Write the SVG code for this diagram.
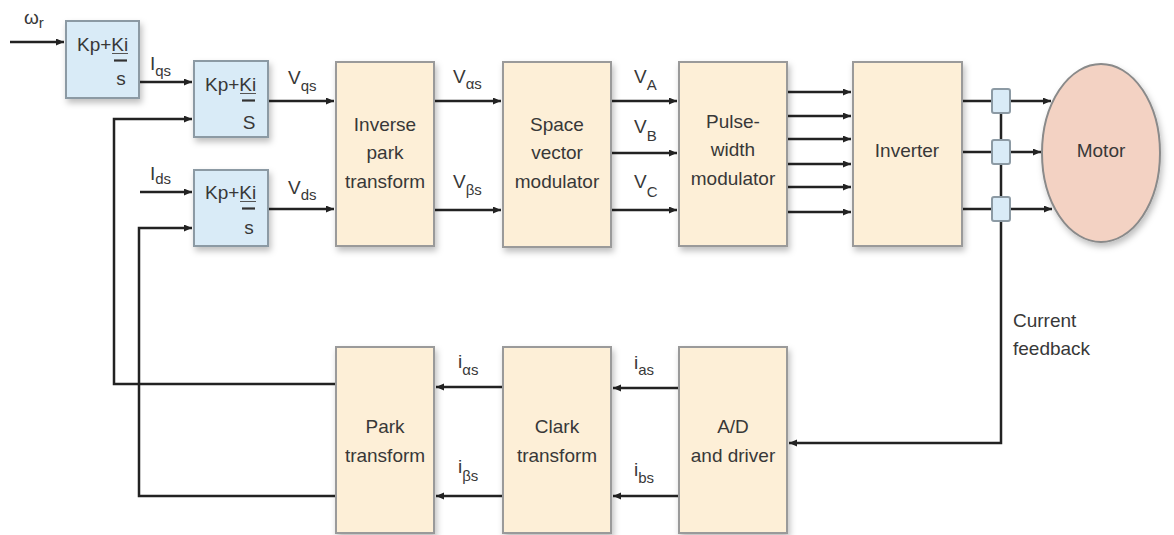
<svg xmlns="http://www.w3.org/2000/svg" width="1174" height="535" viewBox="0 0 1174 535">
<style>
text{font-family:"Liberation Sans",Arial,sans-serif;font-size:19px;fill:#383838}
.sub{font-size:15px}
.pi{fill:#d9ebf7;stroke:#8c9aa4;stroke-width:2}
.bx{fill:#fdefd7;stroke:#9a9a9a;stroke-width:2}
.ln{fill:none;stroke:#222;stroke-width:2.5}
.bar{stroke:#333;stroke-width:2.2}
.ul{stroke:#555;stroke-width:1}
.mid{text-anchor:middle}
</style>
<defs>
<marker id="ah" markerUnits="userSpaceOnUse" markerWidth="10" markerHeight="9" refX="8" refY="3.5" orient="auto">
<path d="M0,0 L8,3.5 L0,7 z" fill="#222"/>
</marker>
<filter id="sh" x="-20%" y="-20%" width="150%" height="150%">
<feDropShadow dx="2" dy="4" stdDeviation="3" flood-color="#000" flood-opacity="0.25"/>
</filter>
</defs>

<g id="connectors">
<path class="ln" d="M10,42 H64" marker-end="url(#ah)"/>
<path class="ln" d="M139,82 H192" marker-end="url(#ah)"/>
<path class="ln" d="M336,384 H114 V119 H192" marker-end="url(#ah)"/>
<path class="ln" d="M140,192 H192" marker-end="url(#ah)"/>
<path class="ln" d="M336,496 H139 V228 H192" marker-end="url(#ah)"/>
<path class="ln" d="M268,101 H334" marker-end="url(#ah)"/>
<path class="ln" d="M268,209 H334" marker-end="url(#ah)"/>
<path class="ln" d="M434,101 H501" marker-end="url(#ah)"/>
<path class="ln" d="M434,210 H501" marker-end="url(#ah)"/>
<path class="ln" d="M611,101 H677" marker-end="url(#ah)"/>
<path class="ln" d="M611,153 H677" marker-end="url(#ah)"/>
<path class="ln" d="M611,210 H677" marker-end="url(#ah)"/>
<path class="ln" d="M787,92 H851" marker-end="url(#ah)"/>
<path class="ln" d="M787,116 H851" marker-end="url(#ah)"/>
<path class="ln" d="M787,139 H851" marker-end="url(#ah)"/>
<path class="ln" d="M787,164 H851" marker-end="url(#ah)"/>
<path class="ln" d="M787,187 H851" marker-end="url(#ah)"/>
<path class="ln" d="M787,212 H851" marker-end="url(#ah)"/>
<path class="ln" d="M962,101 H1051" marker-end="url(#ah)"/>
<path class="ln" d="M962,152 H1041" marker-end="url(#ah)"/>
<path class="ln" d="M962,209 H1052" marker-end="url(#ah)"/>
<path class="ln" d="M1001,101 V443 H789" marker-end="url(#ah)"/>
<path class="ln" d="M679,388 H613" marker-end="url(#ah)"/>
<path class="ln" d="M679,496 H613" marker-end="url(#ah)"/>
<path class="ln" d="M503,387 H436" marker-end="url(#ah)"/>
<path class="ln" d="M503,496 H436" marker-end="url(#ah)"/>
</g>

<g id="sensors">
<rect class="pi" x="992" y="89" width="18" height="24" rx="2"/>
<rect class="pi" x="992" y="140" width="18" height="24" rx="2"/>
<rect class="pi" x="992" y="197" width="18" height="24" rx="2"/>
</g>

<g id="labels">
<text x="24" y="24">ω<tspan class="sub" dy="4">r</tspan></text>
<text x="150" y="70">I<tspan class="sub" dy="6">qs</tspan></text>
<text x="288" y="84">V<tspan class="sub" dy="7">qs</tspan></text>
<text x="150" y="180">I<tspan class="sub" dy="4">ds</tspan></text>
<text x="288" y="194">V<tspan class="sub" dy="6">ds</tspan></text>
<text x="453" y="83">V<tspan class="sub" dy="6">αs</tspan></text>
<text x="453" y="188">V<tspan class="sub" dy="7">βs</tspan></text>
<text x="634" y="83">V<tspan class="sub" dy="7">A</tspan></text>
<text x="634" y="133">V<tspan class="sub" dy="8">B</tspan></text>
<text x="634" y="188">V<tspan class="sub" dy="9">C</tspan></text>
<text x="458" y="368">i<tspan class="sub" dy="7">αs</tspan></text>
<text x="458" y="473">i<tspan class="sub" dy="8">βs</tspan></text>
<text x="634" y="369">i<tspan class="sub" dy="6">as</tspan></text>
<text x="634" y="476">i<tspan class="sub" dy="7">bs</tspan></text>
<text x="1013" y="327">Current</text>
<text x="1013" y="355">feedback</text>
</g>

<g id="pi1">
<rect class="pi" x="66" y="21" width="73" height="77" filter="url(#sh)"/>
<text x="77" y="51">Kp+Ki</text>
<path class="ul" d="M112,53.5 H128"/>
<path class="bar" d="M114,60.5 H127"/>
<text class="mid" x="121" y="85">s</text>
</g>
<g id="pi2">
<rect class="pi" x="194" y="61" width="74" height="76" filter="url(#sh)"/>
<text x="205" y="91">Kp+Ki</text>
<path class="ul" d="M240,93.5 H256"/>
<path class="bar" d="M242,100.5 H255"/>
<text class="mid" x="249" y="129">S</text>
</g>
<g id="pi3">
<rect class="pi" x="194" y="170" width="74" height="76" filter="url(#sh)"/>
<text x="205" y="199">Kp+Ki</text>
<path class="ul" d="M240,201.5 H256"/>
<path class="bar" d="M242,208.5 H255"/>
<text class="mid" x="249" y="234">s</text>
</g>

<g id="inverse-park">
<rect class="bx" x="336" y="62" width="98" height="184" filter="url(#sh)"/>
<text class="mid" x="385" y="131">Inverse</text>
<text class="mid" x="385" y="159">park</text>
<text class="mid" x="385" y="188">transform</text>
</g>
<g id="svm">
<rect class="bx" x="503" y="62" width="108" height="185" filter="url(#sh)"/>
<text class="mid" x="557" y="131">Space</text>
<text class="mid" x="557" y="159">vector</text>
<text class="mid" x="557" y="188">modulator</text>
</g>
<g id="pwm">
<rect class="bx" x="679" y="62" width="108" height="184" filter="url(#sh)"/>
<text class="mid" x="733" y="128">Pulse-</text>
<text class="mid" x="733" y="156">width</text>
<text class="mid" x="733" y="185">modulator</text>
</g>
<g id="inverter">
<rect class="bx" x="853" y="62" width="109" height="184" filter="url(#sh)"/>
<text class="mid" x="907" y="157">Inverter</text>
</g>
<g id="motor">
<ellipse cx="1101" cy="153" rx="59" ry="89" fill="#f3d2c3" stroke="#8a8a8a" stroke-width="2" filter="url(#sh)"/>
<text class="mid" x="1101" y="157">Motor</text>
</g>
<g id="park">
<rect class="bx" x="336" y="347" width="98" height="186" filter="url(#sh)"/>
<text class="mid" x="385" y="433">Park</text>
<text class="mid" x="385" y="462">transform</text>
</g>
<g id="clark">
<rect class="bx" x="503" y="347" width="108" height="186" filter="url(#sh)"/>
<text class="mid" x="557" y="433">Clark</text>
<text class="mid" x="557" y="462">transform</text>
</g>
<g id="ad">
<rect class="bx" x="679" y="347" width="108" height="186" filter="url(#sh)"/>
<text class="mid" x="733" y="433">A/D</text>
<text class="mid" x="733" y="462">and driver</text>
</g>
</svg>
